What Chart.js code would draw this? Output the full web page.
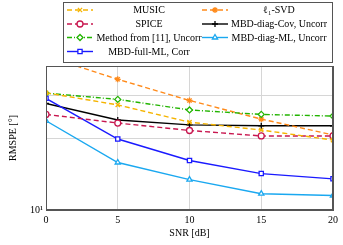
<!DOCTYPE html>
<html>
<head>
<meta charset="utf-8">
<script src="https://cdn.jsdelivr.net/npm/chart.js@4/dist/chart.umd.min.js"></script>
<style>
  html, body { margin: 0; padding: 0; background: #fff; }
  #wrap { width: 343px; height: 245px; position: relative; }
</style>
</head>
<body>
<div id="wrap"><canvas id="rmspeChart" width="343" height="245"></canvas></div>
<script>
// Datos (RMSPE en grados frente a SNR)
const snrLabels = [0, 5, 10, 15, 20];
const music      = [30.9, 27.5, 23.3, 21.6, 19.6];
const l1svd      = [44.0, 35.2, 28.7, 24.0, 20.6];
const spice      = [25.1, 23.1, 21.5, 20.4, 20.4];
const method11   = [30.8, 29.0, 26.2, 25.1, 24.7];
const diagCov    = [27.9, 23.8, 22.7, 22.5, 22.5];
const diagML     = [23.6, 15.8, 13.4, 11.7, 11.5];
const fullML     = [29.3, 19.8, 16.1, 14.2, 13.5];
const yTicks     = [10, 20, 30, 40];

const FONT = "'Liberation Serif', 'Times New Roman', serif";
const BORDER = '#555';

function makeSet(label, data, color, dash, pointStyle, col, row) {
    return {
        label: label,
        data: data,
        borderColor: color,
        backgroundColor: '#fff',
        borderWidth: 1.4,
        borderDash: dash,
        pointStyle: pointStyle,
        pointRadius: 3,
        pointBorderWidth: 1.3,
        pointBorderColor: color,
        pointBackgroundColor: '#fff',
        legendCol: col,
        legendRow: row
    };
}

// Leyenda propia: dos columnas dentro de una caja
const boxLegend = {
    id: 'boxLegend',
    afterDraw(chart) {
        const ctx = chart.ctx;
        ctx.save();
        ctx.strokeStyle = BORDER;
        ctx.lineWidth = 1;
        ctx.strokeRect(63.5, 2.5, 269, 60);
        const rows = [10, 24, 37.5, 51.5];
        const cols = [{ mark: 80, text: 149 }, { mark: 215, text: 279 }];
        chart.data.datasets.forEach(ds => {
            const c = cols[ds.legendCol];
            const y = rows[ds.legendRow];
            ctx.strokeStyle = ds.borderColor;
            ctx.lineWidth = ds.borderWidth;
            ctx.setLineDash(ds.borderDash);
            ctx.beginPath();
            ctx.moveTo(c.mark - 13, y);
            ctx.lineTo(c.mark + 13, y);
            ctx.stroke();
            ctx.setLineDash([]);
            ctx.fillStyle = '#fff';
            ctx.lineWidth = ds.pointBorderWidth;
            Chart.helpers.drawPoint(ctx, { pointStyle: ds.pointStyle, radius: 3, borderWidth: ds.pointBorderWidth }, c.mark, y);
            ctx.fillStyle = '#000';
            ctx.font = '10px ' + FONT;
            ctx.textAlign = 'center';
            ctx.textBaseline = 'middle';
            ctx.fillText(ds.label, c.text, y + 0.5);
        });
        ctx.restore();
    }
};

// Marco completo del area de dibujo
const frame = {
    id: 'frame',
    afterDatasetsDraw(chart) {
        const a = chart.chartArea;
        const ctx = chart.ctx;
        ctx.save();
        ctx.strokeStyle = BORDER;
        ctx.lineWidth = 1;
        ctx.strokeRect(a.left + 0.5, a.top + 0.5, a.right - a.left - 1, a.bottom - a.top - 1);
        ctx.restore();
    }
};

function drawRmspeChart() {
    const data = {
        labels: snrLabels,
        datasets: [
            makeSet('MUSIC', music, '#f5b400', [5, 3], 'crossRot', 0, 0),
            makeSet('SPICE', spice, '#c8174f', [5, 3], 'circle', 0, 1),
            makeSet('Method from [11], Uncorr', method11, '#22b400', [5, 2, 1, 2], 'rectRot', 0, 2),
            makeSet('MBD-full-ML, Corr', fullML, '#1a1aff', [], 'rect', 0, 3),
            makeSet('\u2113\u2081-SVD', l1svd, '#ff8a1a', [5, 3], 'star', 1, 0),
            makeSet('MBD-diag-Cov, Uncorr', diagCov, '#000', [], 'cross', 1, 1),
            makeSet('MBD-diag-ML, Uncorr', diagML, '#1aa8f0', [], 'triangle', 1, 2)
        ]
    };

    const options = {
        responsive: false,
        animation: false,
        layout: { padding: { top: 66, right: 10, left: 0, bottom: 0 } },
        plugins: {
            legend: { display: false },
            tooltip: { enabled: false }
        },
        scales: {
            x: {
                type: 'linear',
                min: 0,
                max: 20,
                afterBuildTicks: s => { s.ticks = snrLabels.map(v => ({ value: v })); },
                afterFit: s => { s.height = 35; },
                border: { color: BORDER, width: 1 },
                grid: {
                    color: c => (c.tick && (c.tick.value === 0 || c.tick.value === 20)) ? BORDER : '#d6d6d6',
                    drawTicks: false
                },
                ticks: { color: '#000', padding: 4, font: { size: 10, family: FONT } },
                title: { display: true, text: 'SNR [dB]', color: '#000', padding: { top: 0, bottom: 6 }, font: { size: 10, family: FONT } }
            },
            y: {
                type: 'logarithmic',
                min: 10,
                max: 40,
                afterBuildTicks: s => { s.ticks = yTicks.map(v => ({ value: v })); },
                afterFit: s => { s.width = 46; },
                border: { color: BORDER, width: 1 },
                grid: {
                    color: c => (c.tick && (c.tick.value === 10 || c.tick.value === 40)) ? BORDER : '#d6d6d6',
                    drawTicks: false
                },
                ticks: {
                    color: '#000',
                    padding: 3,
                    font: { size: 10, family: FONT },
                    callback: v => v === 10 ? '10\u00b9' : ''
                },
                title: { display: true, text: 'RMSPE [\u00b0]', color: '#000', padding: { top: 7, bottom: 0 }, font: { size: 10, family: FONT } }
            }
        }
    };

    new Chart('rmspeChart', { type: 'line', data, options, plugins: [frame, boxLegend] });
}

drawRmspeChart();
</script>
</body>
</html>
